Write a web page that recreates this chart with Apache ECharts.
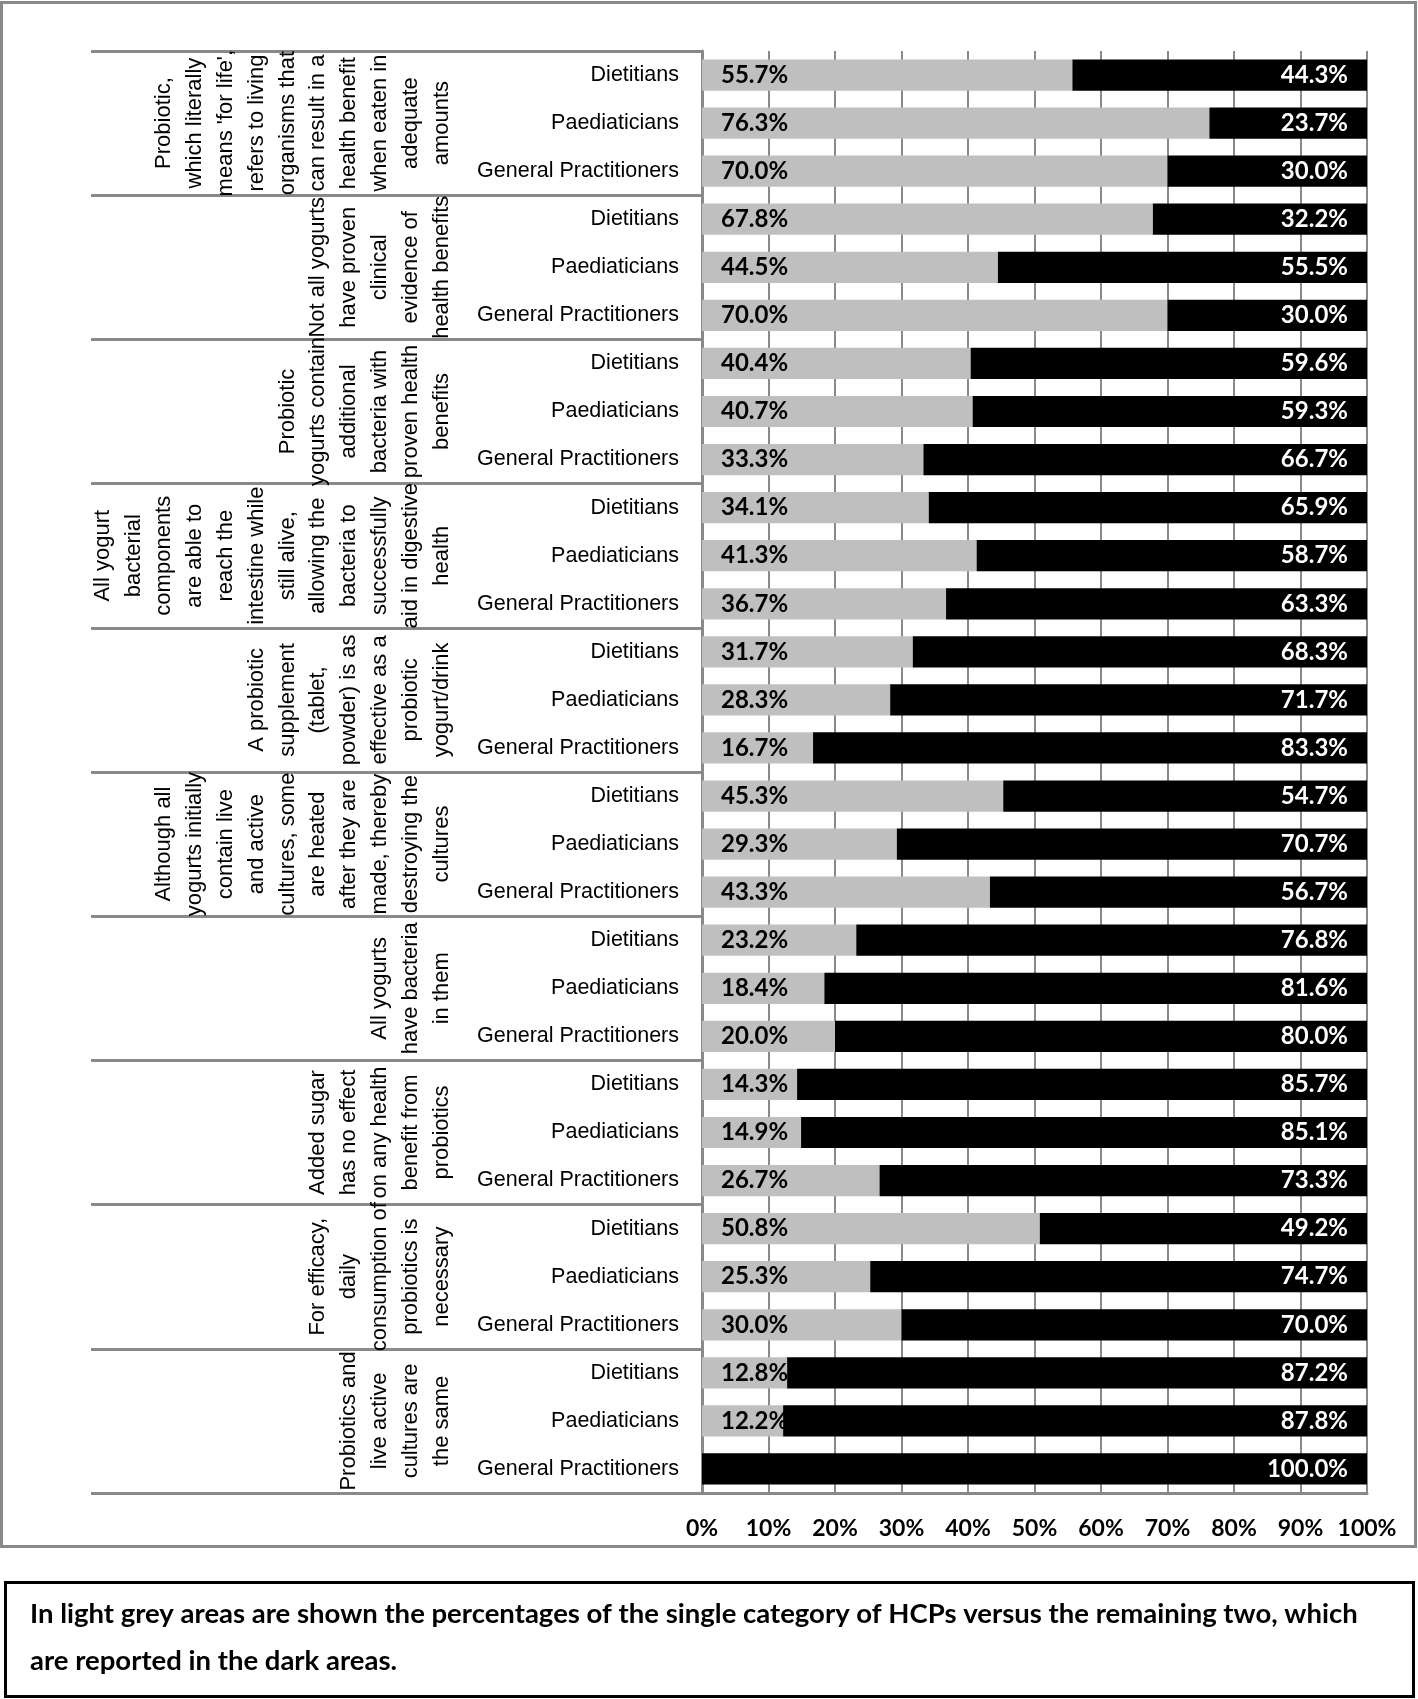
<!DOCTYPE html>
<html>
<head>
<meta charset="utf-8">
<title>HCP knowledge of probiotic statements</title>
<script src="https://cdn.jsdelivr.net/npm/echarts@6.0.0/dist/echarts.min.js"></script>
<style>
  html, body { margin: 0; padding: 0; background: #fff; }
  #main { width: 1418px; height: 1699px; }
</style>
</head>
<body>
<div id="main"></div>
<script>
// one statement per group, broken into lines as printed
var statements = [
  "Probiotic,\nwhich literally\nmeans 'for life',\nrefers to living\norganisms that\ncan result in a\nhealth benefit\nwhen eaten in\nadequate\namounts",
  "Not all yogurts\nhave proven\nclinical\nevidence of\nhealth benefits",
  "Probiotic\nyogurts contain\nadditional\nbacteria with\nproven health\nbenefits",
  "All yogurt\nbacterial\ncomponents\nare able to\nreach the\nintestine while\nstill alive,\nallowing the\nbacteria to\nsuccessfully\naid in digestive\nhealth",
  "A probiotic\nsupplement\n(tablet,\npowder) is as\neffective as a\nprobiotic\nyogurt/drink",
  "Although all\nyogurts initially\ncontain live\nand active\ncultures, some\nare heated\nafter they are\nmade, thereby\ndestroying the\ncultures",
  "All yogurts\nhave bacteria\nin them",
  "Added sugar\nhas no effect\non any health\nbenefit from\nprobiotics",
  "For efficacy,\ndaily\nconsumption of\nprobiotics is\nnecessary",
  "Probiotics and\nlive active\ncultures are\nthe same"
];
var professions = ["Dietitians", "Paediaticians", "General Practitioners"];

// light grey: % of the single HCP category
var singleShare = [
  55.7, 76.3, 70.0,
  67.8, 44.5, 70.0,
  40.4, 40.7, 33.3,
  34.1, 41.3, 36.7,
  31.7, 28.3, 16.7,
  45.3, 29.3, 43.3,
  23.2, 18.4, 20.0,
  14.3, 14.9, 26.7,
  50.8, 25.3, 30.0,
  12.8, 12.2, 0.0
];
// dark: % of the remaining two categories
var otherShare = [
  44.3, 23.7, 30.0,
  32.2, 55.5, 30.0,
  59.6, 59.3, 66.7,
  65.9, 58.7, 63.3,
  68.3, 71.7, 83.3,
  54.7, 70.7, 56.7,
  76.8, 81.6, 80.0,
  85.7, 85.1, 73.3,
  49.2, 74.7, 70.0,
  87.2, 87.8, 100.0
];
var xTicks = [0, 10, 20, 30, 40, 50, 60, 70, 80, 90, 100];

var caption = "In light grey areas are shown the percentages of the single category of HCPs versus the remaining two, which\nare reported in the dark areas.";

// row keys have to be unique, the label shows only the profession
var rows = [];
statements.forEach(function (s, g) {
  professions.forEach(function (p) {
    rows.push(g + "|" + p);
  });
});

function pct(p) {
  return p.value > 0 ? p.value.toFixed(1) + "%" : "";
}

var grey = "#898989";
var myChart = echarts.init(document.getElementById("main"));
var option = {
  animation: false,
  grid: { left: 702, right: 51, top: 51, bottom: 206 },
  xAxis: {
    type: "value",
    min: xTicks[0],
    max: xTicks[xTicks.length - 1],
    interval: xTicks[1] - xTicks[0],
    axisLine: { show: true, lineStyle: { color: grey, width: 3 } },
    axisTick: { show: false },
    splitLine: { show: true, lineStyle: { color: grey, width: 2 } },
    axisLabel: {
      formatter: "{value}%",
      color: "#000",
      fontFamily: "Lato",
      fontWeight: "bold",
      fontSize: 23,
      margin: 24
    }
  },
  yAxis: [
    {
      type: "category",
      data: rows,
      inverse: true,
      position: "left",
      axisLine: { show: false },
      axisTick: { show: false },
      axisLabel: {
        interval: 0,
        formatter: function (v) { return v.split("|")[1]; },
        color: "#000",
        fontFamily: "'Liberation Sans', Arial, sans-serif",
        fontSize: 21.5,
        margin: 23
      }
    },
    {
      // statement groups, ticks drawn as the table lines
      type: "category",
      data: statements,
      inverse: true,
      position: "left",
      axisLine: { show: true, lineStyle: { color: grey, width: 3 } },
      axisTick: { show: true, interval: 0, length: 611, lineStyle: { color: grey, width: 3 } },
      axisLabel: {
        interval: 0,
        rotate: 90,
        align: "center",
        verticalAlign: "bottom",
        margin: 245,
        color: "#000",
        fontFamily: "'Liberation Sans', Arial, sans-serif",
        fontSize: 22,
        lineHeight: 30.8
      }
    }
  ],
  series: [
    {
      name: "Single category",
      type: "bar",
      stack: "share",
      barCategoryGap: "35%",
      data: singleShare,
      itemStyle: { color: "#bfbfbf" },
      label: {
        show: true,
        position: "insideLeft",
        distance: 19,
        formatter: pct,
        color: "#000",
        fontFamily: "Lato",
        fontWeight: "bold",
        fontSize: 24
      }
    },
    {
      name: "Remaining two",
      type: "bar",
      stack: "share",
      barCategoryGap: "35%",
      data: otherShare,
      itemStyle: { color: "#000" },
      label: {
        show: true,
        position: "insideRight",
        distance: 19,
        formatter: pct,
        color: "#fff",
        fontFamily: "Lato",
        fontWeight: "bold",
        fontSize: 24
      }
    }
  ],
  graphic: [
    {
      type: "rect",
      silent: true,
      shape: { x: 1.5, y: 2.5, width: 1414, height: 1544 },
      style: { fill: "none", stroke: grey, lineWidth: 3 }
    },
    {
      type: "rect",
      silent: true,
      shape: { x: 5.5, y: 1582.5, width: 1408, height: 114 },
      style: { fill: "none", stroke: "#000", lineWidth: 3 }
    },
    {
      type: "text",
      silent: true,
      x: 30,
      y: 1591,
      style: {
        text: caption,
        fill: "#000",
        fontFamily: "Lato",
        fontWeight: "bold",
        fontSize: 27.5,
        lineHeight: 47,
        verticalAlign: "top"
      }
    }
  ]
};
myChart.setOption(option);
</script>
</body>
</html>
